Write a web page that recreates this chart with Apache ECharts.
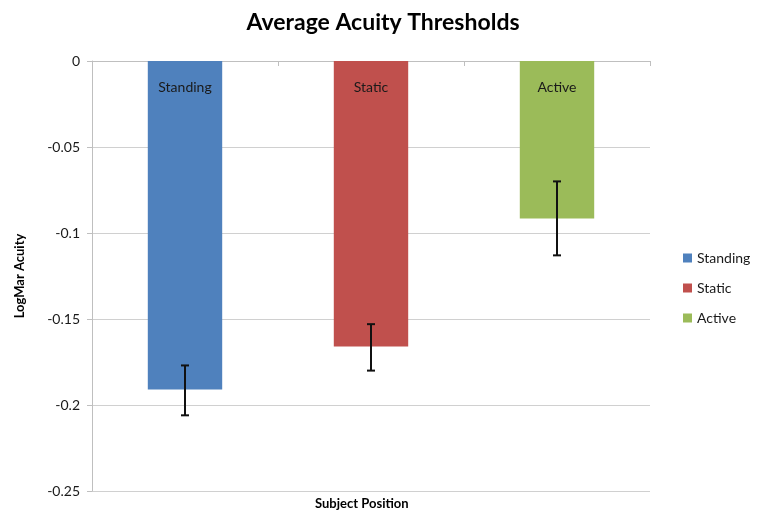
<!DOCTYPE html>
<html>
<head>
<meta charset="utf-8">
<script src="https://cdn.jsdelivr.net/npm/echarts@6/dist/echarts.min.js"></script>
<style>html,body{margin:0;padding:0;background:#fff}#c{width:758px;height:512px}</style>
</head>
<body>
<div id="c"></div>
<script>
var categories = ['Standing', 'Static', 'Active'];
var means = [-0.191, -0.166, -0.0915];
var errLow = [-0.206, -0.180, -0.113];
var errHigh = [-0.177, -0.153, -0.070];
var colors = ['#4F81BD', '#C0504D', '#9BBB59'];
var yTicks = [0, -0.05, -0.1, -0.15, -0.2, -0.25];

var FONT = 'Lato, "Open Sans", sans-serif';
var chart = echarts.init(document.getElementById('c'));

var barSeries = categories.map(function (name, i) {
  var d = categories.map(function (_, j) { return j === i ? means[i] : '-'; });
  return {
    name: name,
    type: 'bar',
    stack: 'all',
    data: d,
    barWidth: '40%',
    itemStyle: { color: colors[i] },
    label: {
      show: true,
      position: 'insideTop',
      distance: 19,
      formatter: function () { return name; },
      color: '#1a1a1a',
      fontSize: 14,
      fontFamily: FONT
    }
  };
});

var errData = categories.map(function (_, i) { return [i, errLow[i], errHigh[i]]; });

barSeries.push({
  type: 'custom',
  name: 'err',
  data: errData,
  z: 10,
  renderItem: function (params, api) {
    var x = api.value(0);
    var lo = api.coord([x, api.value(1)]);
    var hi = api.coord([x, api.value(2)]);
    var cap = 4;
    var st = { stroke: '#111', lineWidth: 2 };
    return {
      type: 'group',
      children: [
        { type: 'line', shape: { x1: lo[0], y1: lo[1], x2: hi[0], y2: hi[1] }, style: st },
        { type: 'line', shape: { x1: lo[0] - cap, y1: lo[1], x2: lo[0] + cap, y2: lo[1] }, style: st },
        { type: 'line', shape: { x1: hi[0] - cap, y1: hi[1], x2: hi[0] + cap, y2: hi[1] }, style: st }
      ]
    };
  }
});

chart.setOption({
  animation: false,
  textStyle: { fontFamily: FONT },
  title: {
    text: 'Average Acuity Thresholds',
    left: 378, top: 6, textAlign: 'center',
    textStyle: { fontSize: 23, fontWeight: 'bold', color: '#000', fontFamily: FONT }
  },
  legend: {
    data: categories,
    orient: 'vertical',
    left: 678, top: 246,
    itemGap: 16,
    itemWidth: 9, itemHeight: 9,
    icon: 'rect',
    textStyle: { fontSize: 14, color: '#1a1a1a', fontFamily: FONT }
  },
  grid: { left: 92, right: 108, top: 61, bottom: 21 },
  xAxis: {
    type: 'category',
    data: categories,
    position: 'top',
    axisLine: { show: true, lineStyle: { color: '#bfbfbf', width: 1 } },
    axisTick: { show: true, inside: true, length: 5, lineStyle: { color: '#bfbfbf' } },
    axisLabel: { show: false },
    splitLine: { show: false }
  },
  yAxis: {
    type: 'value',
    min: -0.25, max: 0, interval: 0.05,
    name: 'LogMar Acuity',
    nameLocation: 'middle',
    nameRotate: 90,
    nameGap: 66,
    nameTextStyle: { fontSize: 13, fontWeight: 'bold', color: '#000', fontFamily: FONT },
    axisLine: { show: true, lineStyle: { color: '#bfbfbf' } },
    axisTick: { show: true, length: 5, lineStyle: { color: '#bfbfbf' } },
    axisLabel: {
      fontSize: 14, color: '#1a1a1a', margin: 12, fontFamily: FONT,
      formatter: function (v) {
        var m = yTicks.filter(function (t) { return Math.abs(t - v) < 1e-9; });
        return m.length ? String(m[0]) : '';
      }
    },
    splitLine: { show: true, lineStyle: { color: '#d0d0d0', width: 1 } }
  },
  graphic: [{
    type: 'text',
    left: 371 - 56, top: 497,
    style: { text: 'Subject Position', fontSize: 13, fontWeight: 'bold', fill: '#000', fontFamily: FONT }
  }],
  series: barSeries
});
</script>
</body>
</html>
